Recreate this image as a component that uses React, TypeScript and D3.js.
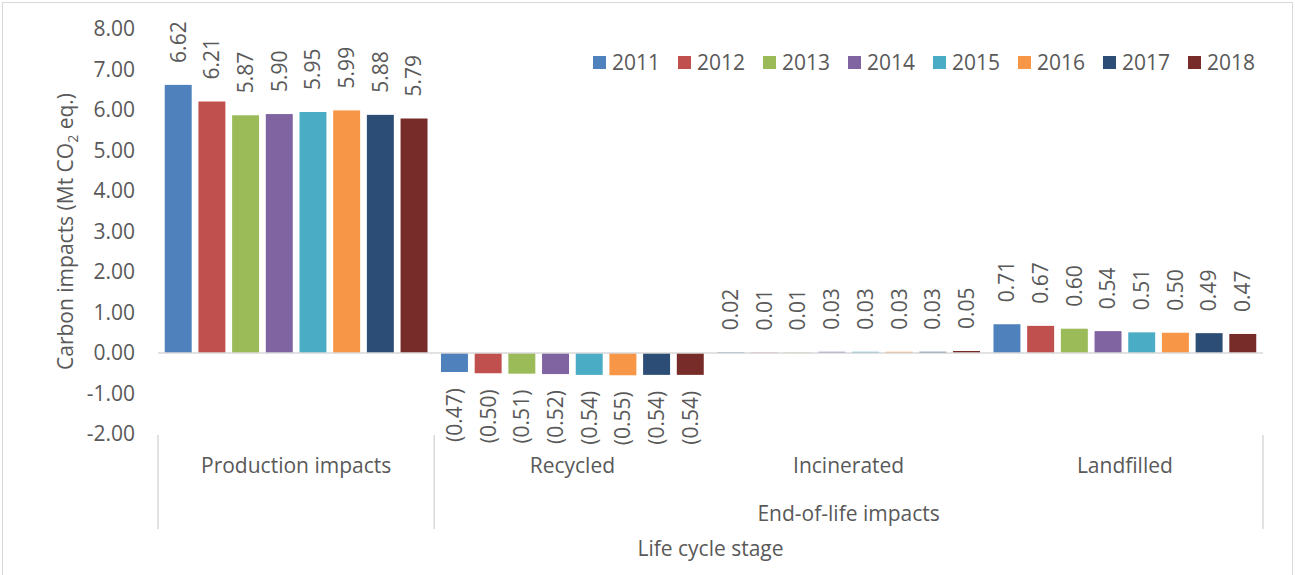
import * as d3 from 'd3';

const width = 1295;
const height = 575;

const categories = ['Production impacts', 'Recycled', 'Incinerated', 'Landfilled'];
const years = ['2011', '2012', '2013', '2014', '2015', '2016', '2017', '2018'];
const colors = ['#4F81BD', '#C0504D', '#9BBB59', '#8064A2', '#4BACC6', '#F79646', '#2C4D75', '#772C2A'];

// values per year, in category order
const production = [6.62, 6.21, 5.87, 5.9, 5.95, 5.99, 5.88, 5.79];
const recycled = [-0.47, -0.5, -0.51, -0.52, -0.54, -0.55, -0.54, -0.54];
const incinerated = [0.02, 0.01, 0.01, 0.03, 0.03, 0.03, 0.03, 0.05];
const landfilled = [0.71, 0.67, 0.6, 0.54, 0.51, 0.5, 0.49, 0.47];
const yTicks = [-2, -1, 0, 1, 2, 3, 4, 5, 6, 7, 8];

const series = [production, recycled, incinerated, landfilled];

const font = "'Open Sans', 'Liberation Sans', sans-serif";
const textColor = '#595959';
const lineColor = '#d9d9d9';
const fs = 21;

export default function App() {
  const x0 = d3.scaleBand(categories, [158, 1263]);
  const x1 = d3
    .scaleBand(years, [0, x0.bandwidth()])
    .paddingInner(0.2)
    .paddingOuter(0.2);
  const y = d3.scaleLinear([-2, 8], [434, 29]);
  const fmt = (v: number) => d3.format('.2f')(v).replace('\u2212', '-');
  const label = (v: number) => (v < 0 ? `(${fmt(-v)})` : fmt(v));

  const left = x0.range()[0];
  const right = x0.range()[1];
  const eolCenter = (x0('Recycled')! + right) / 2;

  return (
    <svg
      width={width}
      height={height}
      style={{ position: 'absolute', left: 0, top: 0, background: 'white' }}
      fontFamily={font}
    >
      <rect x={2.5} y={2.5} width={1290} height={590} fill="white" stroke={lineColor} />

      {/* y axis tick labels */}
      {yTicks.map((t) => (
        <text
          key={t}
          x={135}
          y={y(t)}
          dy="0.35em"
          textAnchor="end"
          fontSize={fs}
          fill={textColor}
        >
          {fmt(t)}
        </text>
      ))}

      <text
        transform={`translate(73,${(y(8) + y(-2)) / 2}) rotate(-90)`}
        textAnchor="middle"
        fontSize={fs}
        fill={textColor}
      >
        Carbon impacts (Mt CO
        <tspan fontSize={14} dy={5}>2</tspan>
        <tspan dy={-5}> eq.)</tspan>
      </text>

      {/* bars */}
      {categories.map((c, ci) => (
        <g key={c} transform={`translate(${x0(c)},0)`}>
          {years.map((yr, i) => {
            const v = series[ci][i];
            const top = y(Math.max(0, v));
            const bottom = y(Math.min(0, v));
            const cx = x1(yr)! + x1.bandwidth() / 2;
            return (
              <g key={yr}>
                <rect
                  x={x1(yr)}
                  y={top}
                  width={x1.bandwidth()}
                  height={Math.max(bottom - top, 0.5)}
                  fill={colors[i]}
                />
                {v >= 0 ? (
                  <text
                    transform={`translate(${cx},${top - 22}) rotate(-90)`}
                    dy="0.35em"
                    textAnchor="start"
                    fontSize={fs}
                    fill={textColor}
                  >
                    {label(v)}
                  </text>
                ) : (
                  <text
                    transform={`translate(${cx},${bottom + 16}) rotate(-90)`}
                    dy="0.35em"
                    textAnchor="end"
                    fontSize={fs}
                    fill={textColor}
                  >
                    {label(v)}
                  </text>
                )}
              </g>
            );
          })}
        </g>
      ))}

      {/* zero line */}
      <line x1={left} x2={right} y1={y(0)} y2={y(0)} stroke={lineColor} strokeWidth={1.5} />

      {/* category axis separators */}
      {[left, x0('Recycled')!, right].map((px) => (
        <line key={px} x1={px} x2={px} y1={435} y2={529} stroke={lineColor} strokeWidth={1.5} />
      ))}

      {categories.map((c) => (
        <text
          key={c}
          x={x0(c)! + x0.bandwidth() / 2}
          y={466}
          dy="0.35em"
          textAnchor="middle"
          fontSize={fs}
          fill={textColor}
        >
          {c}
        </text>
      ))}
      <text x={eolCenter} y={514} dy="0.35em" textAnchor="middle" fontSize={fs} fill={textColor}>
        End-of-life impacts
      </text>
      <text x={(left + right) / 2} y={549} dy="0.35em" textAnchor="middle" fontSize={fs} fill={textColor}>
        Life cycle stage
      </text>

      {/* legend */}
      {years.map((yr, i) => (
        <g key={yr} transform={`translate(${593 + i * 85},63)`}>
          <rect x={0} y={-7} width={13} height={13} fill={colors[i]} />
          <text x={19} y={0} dy="0.35em" fontSize={fs} fill={textColor}>
            {yr}
          </text>
        </g>
      ))}
    </svg>
  );
}
